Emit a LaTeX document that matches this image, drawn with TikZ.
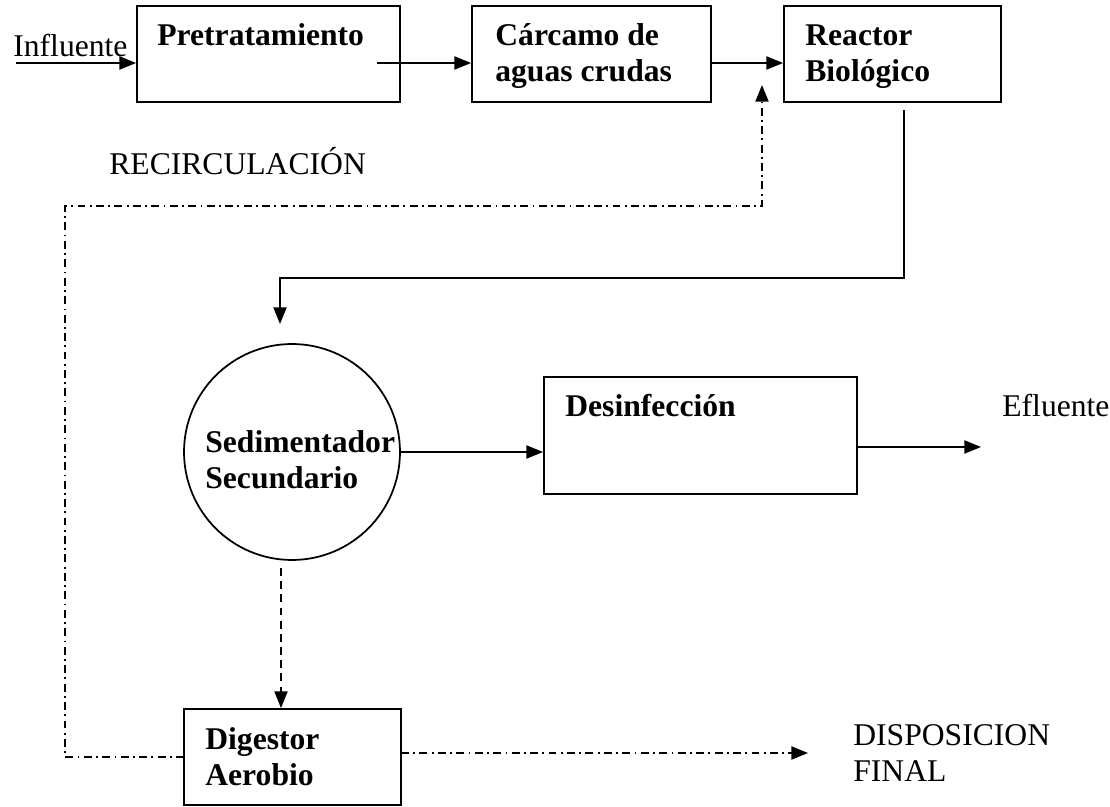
\documentclass[tikz,border=0pt]{standalone}
\usepackage{fontspec}
\setmainfont{Liberation Serif}
\usetikzlibrary{arrows.meta}
\tikzstyle{unit}=[rectangle,draw,line width=1.1pt,inner sep=0pt]
\tikzstyle{tank}=[circle,draw,line width=1pt,inner sep=0pt,minimum size=4.32cm]
\tikzstyle{unitname}=[font=\bfseries\fontsize{18}{20.5}\selectfont,align=left,inner sep=0pt,anchor=base west]
\tikzstyle{remark}=[font=\fontsize{18}{21}\selectfont,align=left,inner sep=0pt,anchor=base west]
\tikzstyle{flow}=[-{Triangle[length=9.5pt,width=7.5pt]},line width=0.9pt]
\tikzstyle{sludge}=[flow,dash pattern=on 4.5pt off 3pt]
\tikzstyle{recirc}=[flow,dash pattern=on 4.5pt off 2.5pt on 1pt off 2.5pt]

\begin{document}
\begin{tikzpicture}[x=0.02cm,y=-0.02cm]
  \useasboundingbox (0,0) rectangle (1110,807);
  % units
  \node[unit,minimum width=5.26cm,minimum height=1.92cm] (pre) at (268.5,54) {};
  \node[unit,minimum width=4.78cm,minimum height=1.92cm] (car) at (591.5,54) {};
  \node[unit,minimum width=4.34cm,minimum height=1.92cm] (rea) at (892.5,54) {};
  \node[tank] (sed) at (292,452) {};
  \node[unit,minimum width=6.26cm,minimum height=2.34cm] (des) at (700.5,435.5) {};
  \node[unit,minimum width=4.34cm,minimum height=1.92cm] (dig) at (292.5,757) {};
  % names (base = last line)
  \node[unitname] (pretxt) at (157,46) {Pretratamiento};
  \node[unitname] (cartxt) at (495,82) {Cárcamo de\\aguas crudas};
  \node[unitname] (reatxt) at (805,82) {Reactor\\Biológico};
  \node[unitname] (sedtxt) at (205,489) {Sedimentador\\Secundario};
  \node[unitname] (destxt) at (565,417) {Desinfección};
  \node[unitname] (digtxt) at (205,786) {Digestor\\Aerobio};
  \node[remark] (influ) at (13,57) {Influente};
  \node[remark] (eflu) at (1002,417) {Efluente};
  \node[remark] (recl) at (109,175) {RECIRCULACIÓN};
  \node[remark] (disp) at (853,782) {DISPOSICION\\FINAL};
  % free ends
  \coordinate (inA) at (16,63);
  \coordinate (pout) at (377,63);
  \coordinate (rdown) at (904,110);
  \coordinate (bend) at (280,278);
  \coordinate (sedin) at (280,324);
  \coordinate (efl) at (981,447);
  \coordinate (sedout) at (281,568);
  \coordinate (digout) at (401,753);
  \coordinate (dispo) at (808,753);
  \coordinate (digin) at (184,757);
  \coordinate (rl) at (65,206);
  \coordinate (rtip) at (762,85);
  % lines
  \draw[flow] (inA) -- (inA -| pre.west);
  \draw[flow] (pout) -- (pout -| car.west);
  \draw[flow] (car.east |- pout) -- (rea.west |- pout);
  \draw[flow] (rdown) |- (bend) -- (sedin);
  \draw[flow] (sed.east) -- (des.west |- sed.east);
  \draw[flow] (des.east |- efl) -- (efl);
  \draw[sludge] (sedout) -- (sedout |- dig.north);
  \draw[recirc] (digout) -- (dispo);
  \draw[recirc] (digin) -| (rl) -| (rtip);
\end{tikzpicture}
\end{document}
